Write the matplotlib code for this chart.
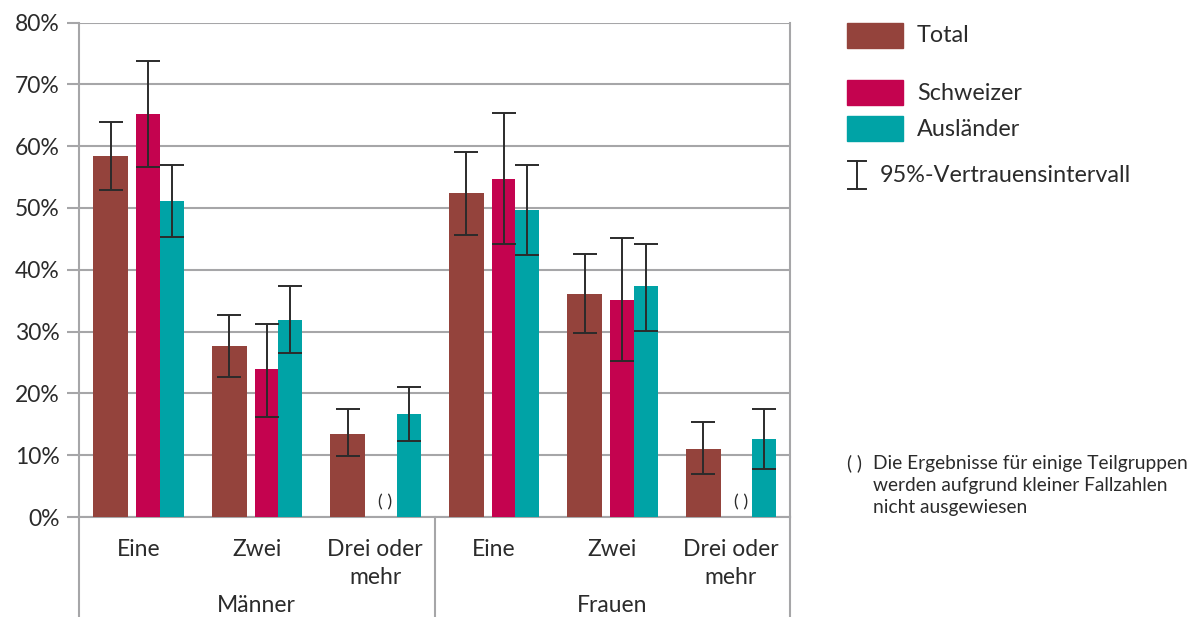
import numpy as np
import matplotlib
matplotlib.use('Agg')
import matplotlib.pyplot as plt
from matplotlib.patches import Rectangle
from matplotlib.lines import Line2D
import matplotlib.transforms as mtransforms

plt.rcParams['font.family'] = ['Lato', 'DejaVu Sans']

# data (percent), nan = not shown
groups = ['Männer', 'Frauen']
categories = ['Eine', 'Zwei', 'Drei oder\nmehr']
series = ['Total', 'Schweizer', 'Ausländer']
colors = ['#94433c', '#c4034f', '#00a3a6']

total = [58.4, 27.7, 13.5, 52.4, 36.1, 11.0]
total_lo = [52.9, 22.7, 9.8, 45.7, 29.7, 6.9]
total_hi = [63.9, 32.6, 17.4, 59.1, 42.5, 15.3]

schweizer = [65.2, 23.9, np.nan, 54.7, 35.1, np.nan]
schweizer_lo = [56.7, 16.2, np.nan, 44.2, 25.2, np.nan]
schweizer_hi = [73.7, 31.3, np.nan, 65.3, 45.1, np.nan]

auslaender = [51.2, 31.8, 16.6, 49.7, 37.3, 12.6]
auslaender_lo = [45.3, 26.6, 12.3, 42.4, 30.1, 7.8]
auslaender_hi = [57.0, 37.3, 21.0, 57.0, 44.2, 17.5]

values = [total, schweizer, auslaender]
lows = [total_lo, schweizer_lo, auslaender_lo]
highs = [total_hi, schweizer_hi, auslaender_hi]

footnote = ['Die Ergebnisse für einige Teilgruppen',
            'werden aufgrund kleiner Fallzahlen',
            'nicht ausgewiesen']

text_col = '#2b2b2b'
grid_col = '#a6a6a8'
fs = 16.5

fig = plt.figure(figsize=(11.99, 6.17), dpi=100)
ax = fig.add_axes([79 / 1199, 1 - 517 / 617, 711 / 1199, 494.5 / 617])

x = np.arange(6)
# bar layout: total bar apart, schweizer/ausländer side by side
offsets = [-0.232, 0.083, 0.283]
widths = [0.295, 0.2, 0.2]

for i in range(3):
    v = np.array(values[i], dtype=float)
    lo = np.array(lows[i], dtype=float)
    hi = np.array(highs[i], dtype=float)
    ax.bar(x + offsets[i], v, width=widths[i], color=colors[i], zorder=3)
    ax.errorbar(x + offsets[i], v, yerr=[v - lo, hi - v], fmt='none',
                ecolor=text_col, elinewidth=1.4, capsize=8.6, capthick=1.4, zorder=4)
    for j in range(6):
        if np.isnan(v[j]):
            ax.text(x[j] + offsets[i], 1.0, '( )', ha='center', va='bottom',
                    fontsize=13, color=text_col, zorder=5)

ax.set_xlim(-0.5, 5.5)
ax.set_ylim(0, 80)
ax.set_yticks(np.arange(0, 81, 10))
ax.set_yticklabels([f'{t}%' for t in range(0, 81, 10)], fontsize=fs, color=text_col)
ax.tick_params(axis='y', length=9, width=1.5, color=grid_col, pad=5)
ax.set_xticks([])
ax.grid(axis='y', color=grid_col, linewidth=1.5, zorder=0)
for s in ['left', 'right']:
    ax.spines[s].set_color(grid_col)
    ax.spines[s].set_linewidth(1.5)
ax.spines['top'].set_visible(False)
ax.spines['bottom'].set_color(grid_col)
ax.spines['bottom'].set_linewidth(1.5)

# category and group labels under the axis
trans = mtransforms.blended_transform_factory(ax.transData, ax.transAxes)
px = 1 / 494.5
for j in range(6):
    lines = categories[j % 3].split('\n')
    for k, line in enumerate(lines):
        ax.text(x[j], -(32 + 28 * k) * px, line, transform=trans, ha='center',
                va='center', fontsize=fs, color=text_col)
for g, name in enumerate(groups):
    ax.text(x[3 * g + 1], -88 * px, name, transform=trans, ha='center',
            va='center', fontsize=fs, color=text_col)
for xs in [-0.5, 2.5, 5.5]:
    ax.add_line(Line2D([xs, xs], [0, -100 * px], transform=trans, color=grid_col,
                       linewidth=1.5, clip_on=False))

# legend drawn by hand
def fx(p):
    return p / 1199

def fy(p):
    return 1 - p / 617

for name, col, top in zip(series, colors, [23, 80, 116]):
    fig.add_artist(Rectangle((fx(847), fy(top + 25)), fx(56), 25 / 617,
                             transform=fig.transFigure, color=col))
    fig.text(fx(917), fy(top + 13), name, fontsize=16.8, color=text_col, va='center')

fig.add_artist(Line2D([fx(857), fx(857)], [fy(161), fy(189)], color=text_col, linewidth=1.4))
fig.add_artist(Line2D([fx(848), fx(866)], [fy(161), fy(161)], color=text_col, linewidth=1.4))
fig.add_artist(Line2D([fx(848), fx(866)], [fy(189), fy(189)], color=text_col, linewidth=1.4))
fig.text(fx(880), fy(176), '95%-Vertrauensintervall', fontsize=16.8, color=text_col, va='center')

fig.text(fx(847), fy(463), '( )', fontsize=13.5, color=text_col, va='center')
for k, line in enumerate(footnote):
    fig.text(fx(873), fy(463 + 22 * k), line, fontsize=13.8, color=text_col, va='center')

fig.savefig('out.png', dpi=100)
